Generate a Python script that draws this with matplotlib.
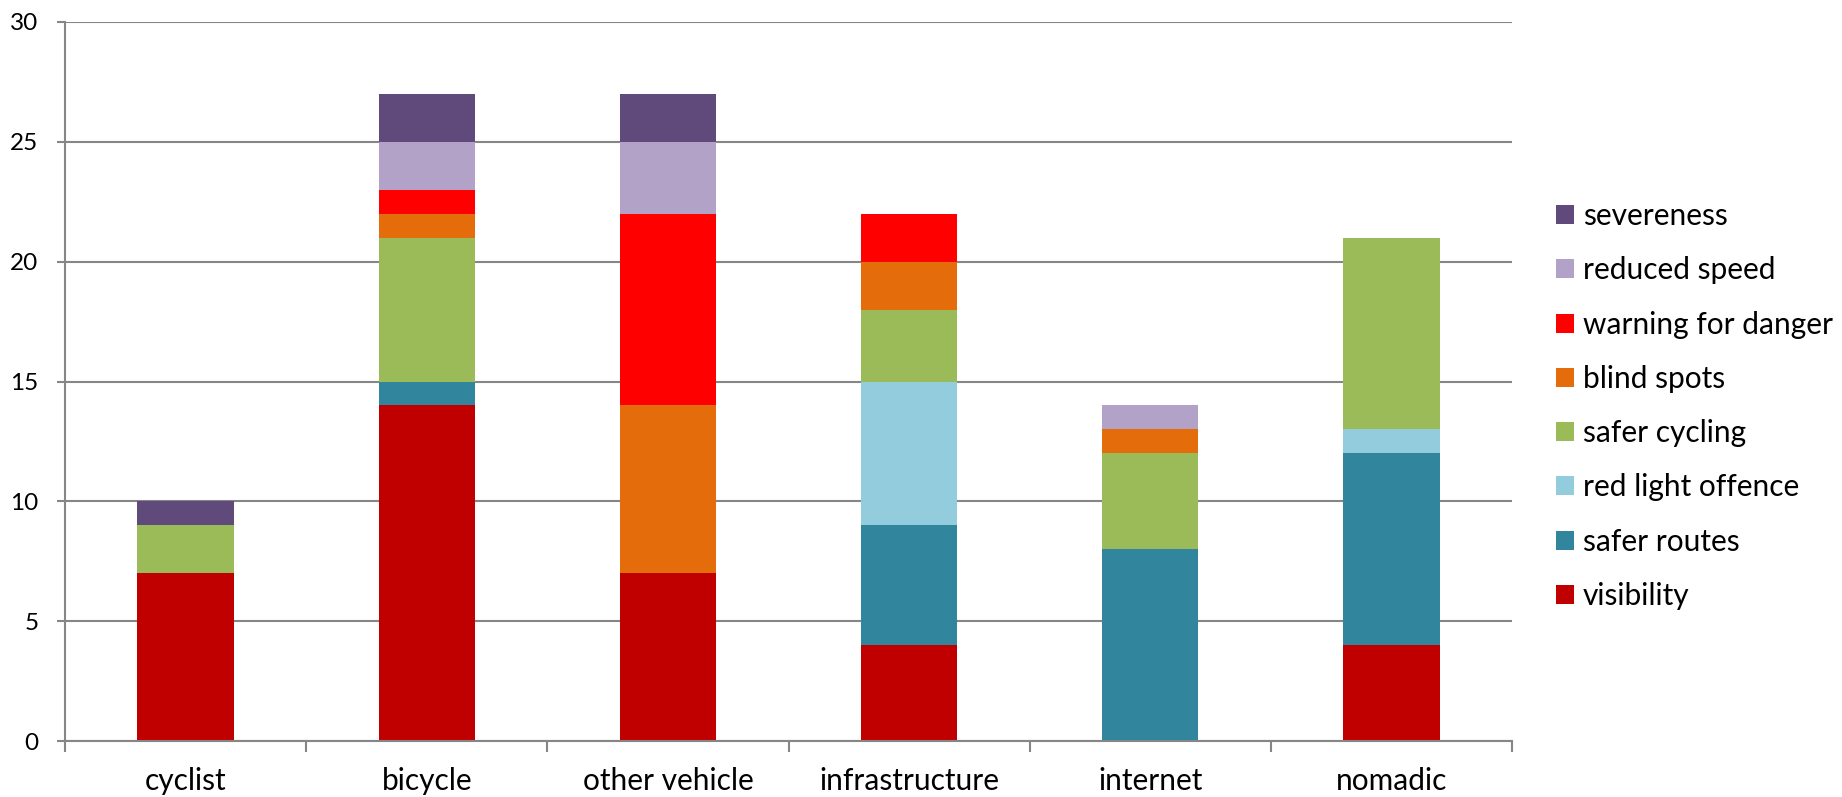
import matplotlib
matplotlib.use("Agg")
import matplotlib.pyplot as plt
import numpy as np
from matplotlib.patches import Patch

categories = ["cyclist", "bicycle", "other vehicle", "infrastructure", "internet", "nomadic"]
series_names = ["visibility", "safer routes", "red light offence", "safer cycling",
                "blind spots", "warning for danger", "reduced speed", "severeness"]
visibility = [7, 14, 7, 4, 0, 4]
safer_routes = [0, 1, 0, 5, 8, 8]
red_light_offence = [0, 0, 0, 6, 0, 1]
safer_cycling = [2, 6, 0, 3, 4, 8]
blind_spots = [0, 1, 7, 2, 1, 0]
warning_for_danger = [0, 1, 8, 2, 0, 0]
reduced_speed = [0, 2, 3, 0, 1, 0]
severeness = [1, 2, 2, 0, 0, 0]
yticks = [0, 5, 10, 15, 20, 25, 30]

series = [visibility, safer_routes, red_light_offence, safer_cycling,
          blind_spots, warning_for_danger, reduced_speed, severeness]
colors = ["#C00000", "#31859C", "#93CDDD", "#9BBB59",
          "#E46C0A", "#FF0000", "#B3A2C7", "#604A7B"]

plt.rcParams['font.family'] = ['Lato', 'DejaVu Sans']

fig = plt.figure(figsize=(18.42, 7.97), dpi=100)
ax = fig.add_axes([65/1842, 1-741/797, (1512-65)/1842, (741-22)/797])

x = np.arange(len(categories))
bottom = np.zeros(len(categories))
for vals, name, col in zip(series, series_names, colors):
    v = np.array(vals, dtype=float)
    ax.bar(x, v, 0.4, bottom=bottom, color=col, label=name, zorder=3)
    bottom += v

gridc = "#868686"
ax.set_xlim(-0.5, len(categories) - 0.5)
ax.set_ylim(0, 30)
ax.set_yticks(yticks)
ax.yaxis.grid(True, color=gridc, linewidth=1.5, zorder=0)
ax.set_axisbelow(True)
for s in ["top", "right"]:
    ax.spines[s].set_visible(False)
for s in ["left", "bottom"]:
    ax.spines[s].set_color(gridc)
    ax.spines[s].set_linewidth(1.5)
    ax.spines[s].set_zorder(4)

ax.set_xticks(x)
ax.set_xticklabels(categories, fontsize=21.5)
ax.set_xticks(np.arange(-0.5, len(categories)), minor=True)
ax.tick_params(axis="x", which="major", length=0, pad=19)
ax.tick_params(axis="x", which="minor", length=8, width=1.5, color=gridc, direction="out")
ax.tick_params(axis="y", length=6, width=1.5, color=gridc, pad=13, labelsize=17.5)

handles = [Patch(facecolor=c, edgecolor="none") for c in colors][::-1]
labels = series_names[::-1]
fig.legend(handles, labels, loc="center left", bbox_to_anchor=(1556/1842, 1-406/797),
           frameon=False, fontsize=21.5, handlelength=0.6, handleheight=0.6,
           handletextpad=0.3, labelspacing=0.88, borderpad=0, borderaxespad=0)

fig.savefig("out.png", dpi=100)
